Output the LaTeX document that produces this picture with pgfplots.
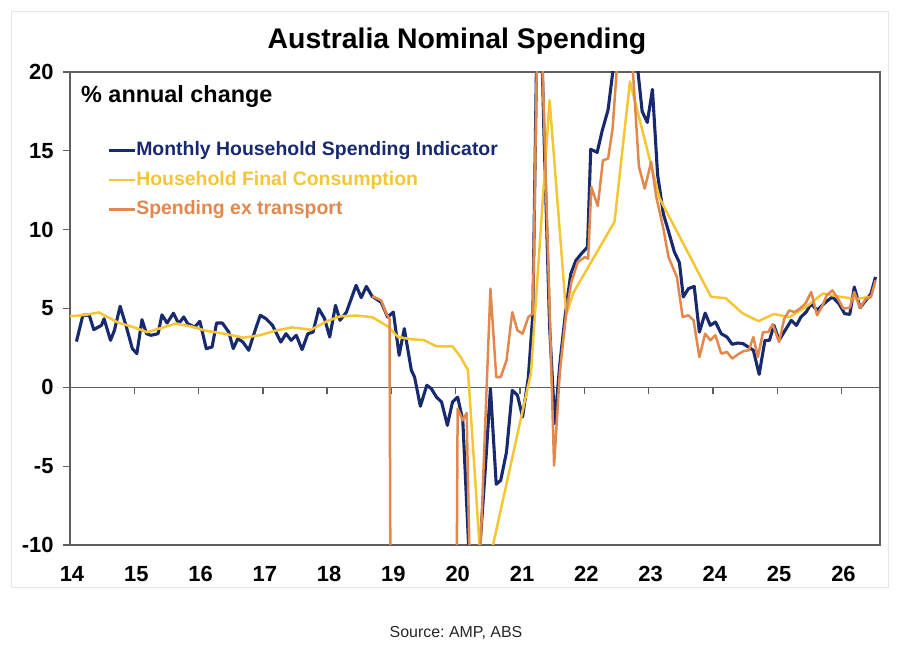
\documentclass[border=0pt]{standalone}
\usepackage{pgfplots}
\pgfplotsset{compat=1.18}
\usepackage{fontspec}
\setmainfont{Liberation Sans}
\definecolor{navy}{RGB}{24,42,110}
\definecolor{gold}{RGB}{244,198,52}
\definecolor{orng}{RGB}{226,136,76}
\definecolor{axgray}{RGB}{95,95,95}
\begin{document}
\begin{tikzpicture}[x=1bp,y=1bp]
\begin{axis}[
  at={(0,0)}, anchor=south west,
  scale only axis, width=810bp, height=473bp,
  xmin=14, xmax=26.6, ymin=-10, ymax=20,
  xtick={14,15,16,17,18,19,20,21,22,23,24,25,26},
  xticklabels={14,15,16,17,18,19,20,21,22,23,24,25,26},
  ytick={-10,-5,0,5,10,15,20},
  yticklabels={-10,-5,0,5,10,15,20},
  ytick pos=left, xtick pos=bottom, tick align=outside,
  major tick length=7bp,
  x tick style={draw=none},
  y tick style={axgray, line width=1.2bp},
  axis line style={axgray, line width=1.3bp},
  tick label style={font=\bfseries\fontsize{22}{22}\selectfont},
  xticklabel style={yshift=-11bp, xshift=2bp},
  yticklabel style={xshift=-6bp},
  legend style={at={(axis description cs:0.0457,0.853)}, anchor=north west,
    draw=none, fill=none, inner sep=0pt, row sep=11.5bp,
    nodes={inner xsep=0pt, inner ysep=0pt, text height=14bp, text depth=4bp,
      font=\bfseries\fontsize{19.5}{20}\selectfont}},
  legend cell align=left,
  legend image code/.code={\draw[#1] (0bp,0bp) -- (26bp,0bp);},
]
\draw[axgray, line width=1.3bp] (axis cs:14,0) -- (axis cs:26.6,0);
\pgfplotsinvokeforeach{15,16,17,18,19,20,21,22,23,24,25,26}{
  \draw[axgray, line width=1.3bp] (axis cs:#1,0) -- ([yshift=-7bp]axis cs:#1,0);
}
\addplot[navy, line width=3.1bp, line join=round] coordinates {
(14.10,2.9) (14.20,4.57) (14.30,4.57) (14.37,3.66) (14.49,3.93) (14.53,4.35)
(14.63,2.98) (14.69,3.6) (14.78,5.14) (14.87,3.93) (14.97,2.45) (15.04,2.14)
(15.12,4.29) (15.19,3.4) (15.26,3.3) (15.37,3.4) (15.43,4.6) (15.51,4.08)
(15.61,4.7) (15.69,4.04) (15.77,4.46) (15.83,4.04) (15.94,3.82) (16.02,4.19)
(16.12,2.45) (16.21,2.56) (16.28,4.08) (16.37,4.08) (16.47,3.5) (16.54,2.45)
(16.61,3.09) (16.69,2.87) (16.78,2.35) (16.87,3.5) (16.96,4.57) (17.05,4.35)
(17.15,3.93) (17.28,2.87) (17.36,3.4) (17.44,2.98) (17.52,3.3) (17.61,2.39)
(17.70,3.4) (17.78,3.5) (17.87,4.99) (17.96,4.35) (18.04,3.19) (18.13,5.2)
(18.20,4.25) (18.30,4.77) (18.45,6.47) (18.53,5.69) (18.61,6.4) (18.70,5.77)
(18.84,5.4) (18.94,4.46) (19.03,4.77) (19.12,2.03) (19.20,3.72) (19.31,1.08)
(19.36,0.65) (19.45,-1.2) (19.55,0.13) (19.62,-0.08) (19.70,-0.62) (19.78,-0.93)
(19.87,-2.41) (19.95,-0.93) (20.03,-0.62) (20.11,-2.09) (20.20,-10) (20.29,-18)
(20.37,-10.5) (20.46,-5.2) (20.54,-0.08) (20.63,-6.15) (20.70,-5.9) (20.79,-4.1)
(20.88,-0.19) (20.96,-0.5) (21.04,-1.88) (21.13,0.65) (21.20,4.67) (21.29,30)
(21.37,16.5) (21.46,3.9) (21.54,-2.3) (21.62,1.5) (21.71,4.8) (21.79,7.2)
(21.87,8.05) (21.96,8.5) (22.05,8.9) (22.10,15.1) (22.20,14.9) (22.28,16.3)
(22.37,17.6) (22.44,19.9) (22.53,23.5) (22.62,25) (22.70,23.5) (22.81,21)
(22.90,17.5) (22.98,16.8) (23.06,18.9) (23.14,13.5) (23.23,11.0) (23.31,9.9)
(23.40,8.6) (23.48,7.9) (23.54,5.73) (23.62,6.26) (23.71,6.4) (23.79,3.5)
(23.88,4.71) (23.96,3.93) (24.04,4.14) (24.13,3.4) (24.22,3.19) (24.30,2.73)
(24.39,2.81) (24.47,2.77) (24.55,2.56) (24.63,2.35) (24.72,0.82) (24.81,2.98)
(24.88,2.98) (24.95,3.93) (25.03,2.98) (25.14,3.72) (25.22,4.25) (25.30,3.93)
(25.37,4.46) (25.45,4.77) (25.53,5.31) (25.62,4.88) (25.70,5.2) (25.79,5.52)
(25.86,5.73) (25.96,5.31) (26.05,4.67) (26.13,4.63) (26.20,6.36) (26.29,5.05)
(26.38,5.52) (26.46,5.94) (26.53,7.0)
};
\addlegendentry{\textcolor{navy}{Monthly Household Spending Indicator}}
\addplot[gold, line width=2.5bp, line join=round] coordinates {
(14.00,4.5) (14.25,4.6) (14.45,4.75) (14.75,4.1) (15.00,3.8) (15.20,3.5)
(15.45,3.8) (15.65,4.05) (15.90,3.85) (16.10,3.6) (16.40,3.4) (16.70,3.15)
(16.95,3.3) (17.20,3.6) (17.45,3.8) (17.75,3.65) (18.00,4.2) (18.20,4.5)
(18.45,4.55) (18.70,4.45) (18.95,3.85) (19.10,3.2) (19.30,3.05) (19.50,3.0)
(19.70,2.6) (19.95,2.6) (20.08,1.9) (20.19,1.1) (20.41,-12.5) (20.58,-10)
(21.17,0.9) (21.46,18.2) (21.72,4.6) (21.83,6.0) (22.47,10.5) (22.71,19.4)
(23.17,12.0) (23.97,5.75) (24.20,5.65) (24.46,4.7) (24.71,4.2) (24.95,4.65)
(25.19,4.45) (25.45,5.1) (25.71,5.95) (25.97,5.75) (26.23,5.6) (26.46,5.75)
};
\addlegendentry{\textcolor{gold}{Household Final Consumption}}
\addplot[orng, line width=2.5bp, line join=round] coordinates {
(18.70,5.77) (18.84,5.52) (18.92,4.67) (18.97,4.35) (19.00,-30) (19.99,-30)
(20.03,-1.35) (20.11,-2.09) (20.17,-1.63) (20.26,-20) (20.34,-15) (20.54,6.26)
(20.63,0.65) (20.70,0.65) (20.79,1.71) (20.88,4.77) (20.96,3.61) (21.04,3.4)
(21.13,4.46) (21.20,4.67) (21.29,28) (21.37,17.5) (21.46,5) (21.53,-4.96)
(21.62,1.0) (21.72,4.77) (21.80,6.7) (21.90,7.95) (22.01,8.26) (22.06,8.16)
(22.11,12.7) (22.21,11.5) (22.29,14.4) (22.37,14.5) (22.44,16.4) (22.52,21)
(22.60,24) (22.68,22.5) (22.76,19.8) (22.85,14.0) (22.94,12.6) (23.04,14.3)
(23.12,12.07) (23.23,10.06) (23.31,8.26) (23.44,7.0) (23.53,4.46) (23.62,4.57)
(23.70,4.25) (23.79,1.92) (23.88,3.4) (23.96,2.98) (24.04,3.3) (24.13,2.14)
(24.22,2.24) (24.30,1.82) (24.39,2.09) (24.48,2.3) (24.56,2.35) (24.63,3.19)
(24.70,1.92) (24.78,3.5) (24.86,3.5) (24.93,4.0) (25.03,2.87) (25.11,4.35)
(25.19,4.88) (25.27,4.77) (25.35,4.99) (25.44,5.31) (25.53,6.04) (25.62,4.57)
(25.70,5.14) (25.77,5.83) (25.86,6.15) (25.96,5.52) (26.03,4.99) (26.13,5.05)
(26.20,6.04) (26.29,5.05) (26.38,5.62) (26.46,5.73) (26.53,6.78)
};
\addlegendentry{\textcolor{orng}{Spending ex transport}}
\end{axis}
\pgfresetboundingbox
\useasboundingbox (-70,-103) rectangle (830,545);
\draw[black!10, line width=1bp] (-58,-43) rectangle (818,533);
\node[font=\bfseries\fontsize{28.5}{30}\selectfont, inner sep=0pt] at (387,504) {Australia Nominal Spending};
\node[anchor=base west, inner sep=0pt, font=\bfseries\fontsize{23.5}{25}\selectfont] at (11,442) {\% annual change};
\node[font=\fontsize{16}{18}\selectfont, text=black!85] at (386,-88) {Source:\ AMP,\ ABS};
\end{tikzpicture}
\end{document}
